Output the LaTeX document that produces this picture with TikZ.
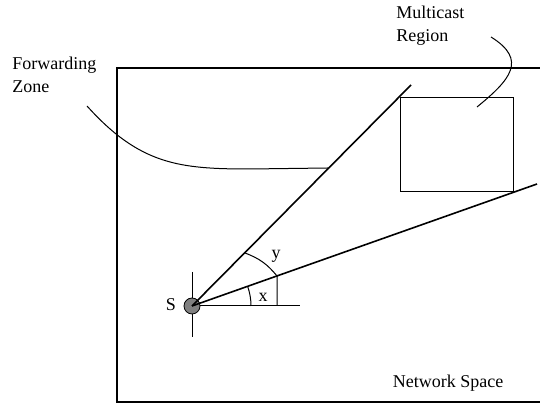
\documentclass[tikz,border=0pt]{standalone}
\usepackage{fontspec}
\setmainfont{Liberation Serif}
\usetikzlibrary{positioning}

\begin{document}
\begin{tikzpicture}[x=0.5pt, y=0.5pt, font=\fontsize{9}{11.5}\selectfont,
    label/.style={inner sep=0pt, align=left},
    ray/.style={line width=0.8pt},
    thin line/.style={line width=0.5pt}]
      \useasboundingbox (0,0) rectangle (540,405);

      % Network space
      \draw[line width=1.2pt] (545,337) -- (117,337) -- (117,3) -- (545,3);
      \node[label] (space) at (448,22) {Network Space};

      % Multicast region
      \draw[thin line] (400,213) rectangle (513,307);
      \node[label, anchor=north west] (mregion) at (396,399) {Multicast\\Region};

      % Source
      \coordinate (src) at (192,99);
      \draw[thin line] (192,133) -- (192,68);
      \draw[thin line] (src) -- (300,99);
      \node[circle, draw, fill=gray, inner sep=0pt, minimum size=8pt] (s) at (src) {};
      \node[label] (slabel) at (171,100) {S};

      % Forwarding zone rays
      \coordinate (upper) at (411,320);
      \coordinate (lower) at (537,221);
      \draw[ray] (src) -- (upper);
      \draw[ray] (src) -- (lower);

      % Angles
      \draw[thin line] (251,99) arc (0:19.5:59);
      \coordinate (ya) at (245,152);
      \coordinate (yb) at (277,129);
      \coordinate (yc) at (277,99);
      \draw[thin line] (ya) to[bend left=15] (yb) -- (yc);
      \node[label] (xlabel) at (263,108) {x};
      \node[label] (ylabel) at (276,149) {y};

      % Labels
      \node[label, anchor=north west] (fzone) at (12,348) {Forwarding\\Zone};
      \coordinate (fstart) at (87,299);
      \coordinate (fend) at (328,237);
      \draw[thin line] (fstart) .. controls (140,240) and (180,236) .. (250,236) -- (fend);
      \coordinate (mstart) at (491,368);
      \coordinate (mend) at (477,298);
      \draw[thin line] (mstart) .. controls (528,345) and (510,325) .. (mend);
\end{tikzpicture}
\end{document}
